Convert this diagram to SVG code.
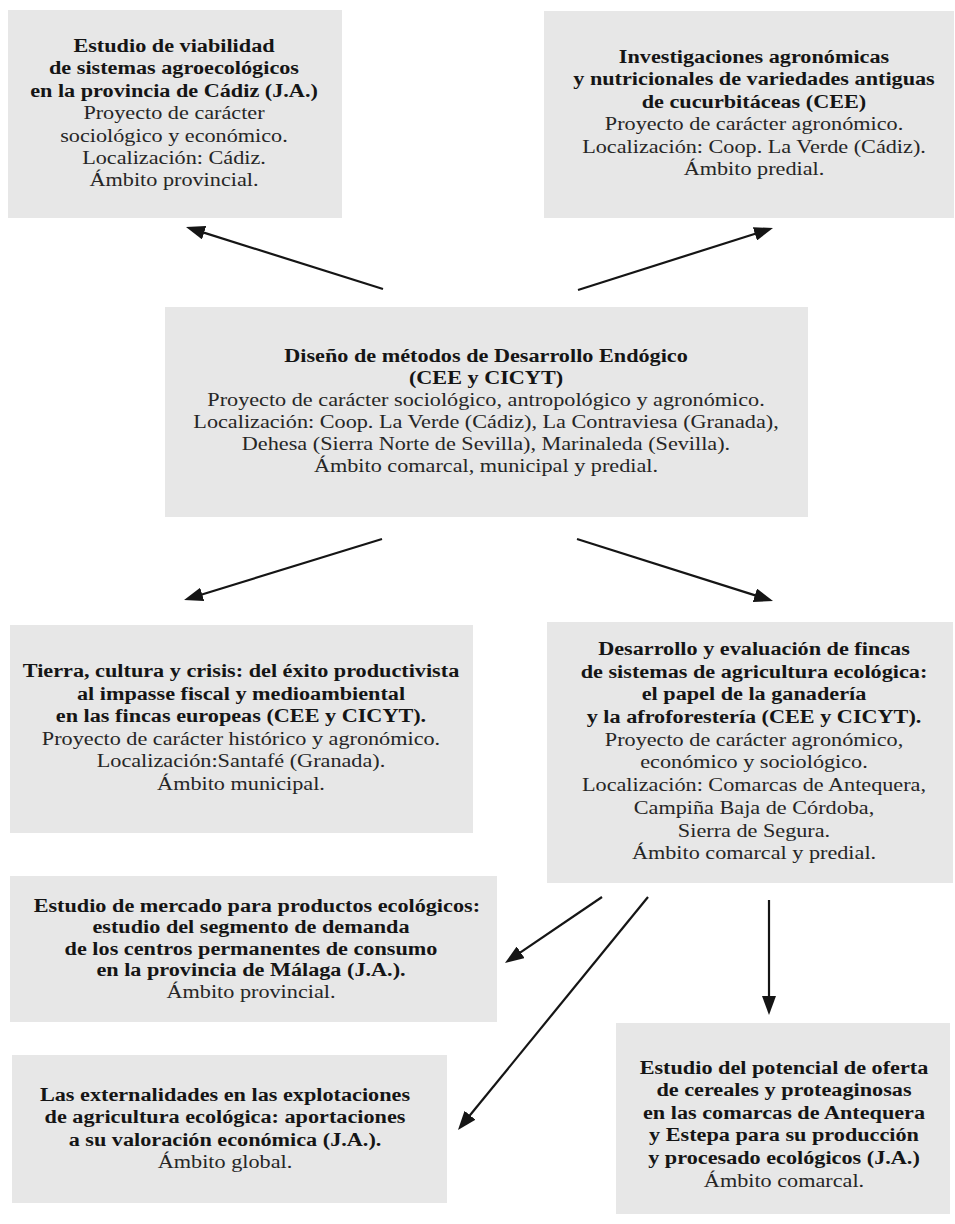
<svg xmlns="http://www.w3.org/2000/svg" width="955" height="1224" viewBox="0 0 955 1224">
<style>
.box{fill:#e7e7e7;stroke:none}
text{font-family:"Liberation Serif","Times New Roman",serif;font-size:19px;text-anchor:middle;fill:#262626}
.b{font-weight:bold;fill:#151515}
.c{stroke:#151515;stroke-width:2.2;fill:none}
</style>
<defs>
<marker id="ah" markerWidth="19" markerHeight="14" refX="2" refY="7" orient="auto" markerUnits="userSpaceOnUse">
<path d="M0,0 L19,7 L0,14 z" fill="#151515"/>
</marker>
</defs>
<rect width="955" height="1224" fill="#ffffff"/>

<g id="n1">
<rect class="box" x="8" y="10" width="334" height="208"/>
<g transform="translate(174,0) scale(1.17,1)">
<text class="b" x="0" y="52">Estudio de viabilidad</text>
<text class="b" x="0" y="74.4">de sistemas agroecológicos</text>
<text class="b" x="0" y="96.8">en la provincia de Cádiz (J.A.)</text>
<text x="0" y="119.2">Proyecto de carácter</text>
<text x="0" y="141.6">sociológico y económico.</text>
<text x="0" y="164">Localización: Cádiz.</text>
<text x="0" y="186.4">Ámbito provincial.</text>
</g>
</g>

<g id="n2">
<rect class="box" x="544" y="11" width="410" height="207"/>
<g transform="translate(754,0) scale(1.17,1)">
<text class="b" x="0" y="63">Investigaciones agronómicas</text>
<text class="b" x="0" y="85.4">y nutricionales de variedades antiguas</text>
<text class="b" x="0" y="107.8">de cucurbitáceas (CEE)</text>
<text x="0" y="130.2">Proyecto de carácter agronómico.</text>
<text x="0" y="152.6">Localización: Coop. La Verde (Cádiz).</text>
<text x="0" y="175">Ámbito predial.</text>
</g>
</g>

<g id="n3">
<rect class="box" x="165" y="307" width="643" height="210"/>
<g transform="translate(486,0) scale(1.17,1)">
<text class="b" x="0" y="362">Diseño de métodos de Desarrollo Endógico</text>
<text class="b" x="0" y="384">(CEE y CICYT)</text>
<text x="0" y="406">Proyecto de carácter sociológico, antropológico y agronómico.</text>
<text x="0" y="428">Localización: Coop. La Verde (Cádiz), La Contraviesa (Granada),</text>
<text x="0" y="450">Dehesa (Sierra Norte de Sevilla), Marinaleda (Sevilla).</text>
<text x="0" y="472">Ámbito comarcal, municipal y predial.</text>
</g>
</g>

<g id="n4">
<rect class="box" x="10" y="625" width="463" height="208"/>
<g transform="translate(241,0) scale(1.17,1)">
<text class="b" x="0" y="677">Tierra, cultura y crisis: del éxito productivista</text>
<text class="b" x="0" y="699.6">al impasse fiscal y medioambiental</text>
<text class="b" x="0" y="722.2">en las fincas europeas (CEE y CICYT).</text>
<text x="0" y="744.8">Proyecto de carácter histórico y agronómico.</text>
<text x="0" y="767.4">Localización:Santafé (Granada).</text>
<text x="0" y="790">Ámbito municipal.</text>
</g>
</g>

<g id="n5">
<rect class="box" x="547" y="622" width="406" height="261"/>
<g transform="translate(754,0) scale(1.17,1)">
<text class="b" x="0" y="655">Desarrollo y evaluación de fincas</text>
<text class="b" x="0" y="677.7">de sistemas de agricultura ecológica:</text>
<text class="b" x="0" y="700.4">el papel de la ganadería</text>
<text class="b" x="0" y="723.1">y la afroforestería (CEE y CICYT).</text>
<text x="0" y="745.8">Proyecto de carácter agronómico,</text>
<text x="0" y="768.5">económico y sociológico.</text>
<text x="0" y="791.2">Localización: Comarcas de Antequera,</text>
<text x="0" y="813.9">Campiña Baja de Córdoba,</text>
<text x="0" y="836.6">Sierra de Segura.</text>
<text x="0" y="859.3">Ámbito comarcal y predial.</text>
</g>
</g>

<g id="n6">
<rect class="box" x="10" y="876" width="487" height="146"/>
<g transform="translate(251,0) scale(1.17,1)">
<text class="b" x="5" y="912">Estudio de mercado para productos ecológicos:</text>
<text class="b" x="0" y="933.5">estudio del segmento de demanda</text>
<text class="b" x="0" y="955">de los centros permanentes de consumo</text>
<text class="b" x="0" y="976.5">en la provincia de Málaga (J.A.).</text>
<text x="0" y="998">Ámbito provincial.</text>
</g>
</g>

<g id="n7">
<rect class="box" x="12" y="1055" width="435" height="148"/>
<g transform="translate(225,0) scale(1.17,1)">
<text class="b" x="0" y="1101">Las externalidades en las explotaciones</text>
<text class="b" x="0" y="1123.3">de agricultura ecológica: aportaciones</text>
<text class="b" x="0" y="1145.6">a su valoración económica (J.A.).</text>
<text x="0" y="1168">Ámbito global.</text>
</g>
</g>

<g id="n8">
<rect class="box" x="616" y="1023" width="334" height="191"/>
<g transform="translate(784,0) scale(1.17,1)">
<text class="b" x="0" y="1074">Estudio del potencial de oferta</text>
<text class="b" x="0" y="1096.5">de cereales y proteaginosas</text>
<text class="b" x="0" y="1119">en las comarcas de Antequera</text>
<text class="b" x="0" y="1141.5">y Estepa para su producción</text>
<text class="b" x="0" y="1164">y procesado ecológicos (J.A.)</text>
<text x="0" y="1186.5">Ámbito comarcal.</text>
</g>
</g>

<g id="connectors">
<line class="c" x1="383" y1="289" x2="202.2" y2="232.1" marker-end="url(#ah)"/>
<line class="c" x1="578" y1="290" x2="756.8" y2="233.2" marker-end="url(#ah)"/>
<line class="c" x1="382" y1="539" x2="200.3" y2="595.0" marker-end="url(#ah)"/>
<line class="c" x1="577" y1="539" x2="756.8" y2="595.9" marker-end="url(#ah)"/>
<line class="c" x1="602" y1="897" x2="519.0" y2="953.4" marker-end="url(#ah)"/>
<line class="c" x1="648" y1="897" x2="468.7" y2="1116.8" marker-end="url(#ah)"/>
<line class="c" x1="769" y1="900" x2="769" y2="998" marker-end="url(#ah)"/>
</g>
</svg>
